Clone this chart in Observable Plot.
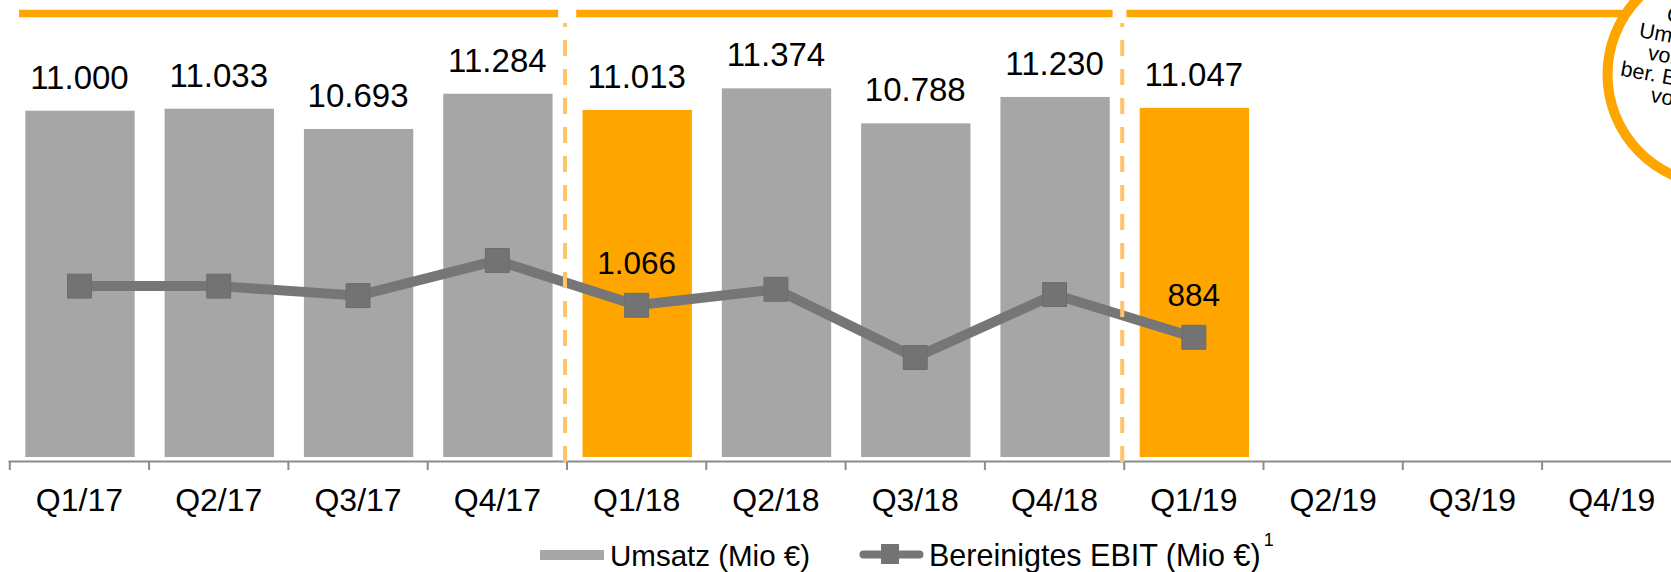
<!DOCTYPE html>
<html>
<head>
<meta charset="utf-8">
<script src="https://cdn.jsdelivr.net/npm/d3@7"></script>
<script src="https://cdn.jsdelivr.net/npm/@observablehq/plot@0.6"></script>
<style>
  html, body { margin: 0; padding: 0; background: #fff; overflow: hidden; }
  #wrap { position: relative; width: 1671px; height: 572px; overflow: hidden;
          font-family: "Liberation Sans", Arial, sans-serif; color: #000; }
  #wrap > svg { position: absolute; left: 0; top: 0; }
  .legtxt { position: absolute; white-space: nowrap; font-size: 30.5px; line-height: 31px; }
  .legtxt .note { font-size: 18px; position: relative; top: -20px; margin-left: 3px; }
</style>
</head>
<body>
<div id="wrap"></div>
<script>
// ---------------- data ----------------
const quarters = ["Q1/17", "Q2/17", "Q3/17", "Q4/17", "Q1/18", "Q2/18", "Q3/18", "Q4/18", "Q1/19", "Q2/19", "Q3/19", "Q4/19"];
const umsatz = [11000, 11033, 10693, 11284, 11013, 11374, 10788, 11230, 11047];   // Umsatz (Mio €)
const ebit = [1175, 1175, 1121, 1321, 1066, 1157, 769, 1127, 884];                // Bereinigtes EBIT (Mio €), estimated
const highlighted = ["Q1/18", "Q1/19"];
const ebitLabelled = ["Q1/18", "Q1/19"];
const yearStarts = ["Q1/18", "Q1/19"];
const years = [["Q1/17", "Q4/17"], ["Q1/18", "Q4/18"], ["Q1/19", "Q4/19"]];
const legendLabels = ["Umsatz (Mio €)", "Bereinigtes EBIT (Mio €)"];
const legendNote = "1";
const calloutLines = ["Organisches", "Umsatzwachstum", "von 0,3 % bzw.", "ber. EBIT-Rückgang", "von ca. 17 %"];

// scale extents (no visible y axes in the original)
const umsatzDomain = [5202, 12853];
const ebitDomain = [200, 2726];

// ---------------- helpers ----------------
const W = 1671, H = 525;
const font = "'Liberation Sans', Arial, sans-serif";
const fmt = d3.formatLocale({decimal: ",", thousands: ".", grouping: [3], currency: ["", "€"]}).format(",d");
const idx = q => quarters.indexOf(q);
const mid = q => idx(q) + 0.5;
const rev = umsatz.map((v, i) => ({q: quarters[i], v}));
const eb = ebit.map((v, i) => ({q: quarters[i], v}));
const xOpts = {type: "linear", domain: [0, quarters.length], range: [9.3, 9.3 + quarters.length * 139.3], axis: null};

const ORANGE = "#ffa500", GREY = "#a6a6a6", LINE = "#767676";

// ---------------- layer 1: bars + axis ----------------
const p1 = Plot.plot({
  width: W, height: H,
  marginTop: 0, marginBottom: 64, marginLeft: 9, marginRight: 0,
  style: {fontFamily: font, background: "transparent", overflow: "visible"},
  x: xOpts,
  y: {domain: umsatzDomain, range: [457, 0], axis: null},
  marks: [
    Plot.rect(rev, {
      x1: d => idx(d.q) + 0.115, x2: d => idx(d.q) + 0.9,
      y1: umsatzDomain[0], y2: "v",
      fill: d => highlighted.includes(d.q) ? ORANGE : GREY
    }),
    Plot.text(rev, {x: d => mid(d.q), y: "v", dy: -33, text: d => fmt(d.v),
      fontSize: 33, fill: "#000", lineAnchor: "middle"}),
    Plot.frame({anchor: "bottom", stroke: "#8c8c8c", strokeWidth: 2}),
    Plot.axisX({ticks: d3.range(quarters.length), tickSize: 9, tickFormat: () => "",
      stroke: "#8c8c8c", strokeWidth: 2}),
    Plot.text(quarters, {x: q => mid(q), frameAnchor: "bottom", dy: 39, text: q => q,
      fontSize: 32, fill: "#000", lineAnchor: "middle"})
  ]
});

// ---------------- layer 2: EBIT line + decorations ----------------
const p2 = Plot.plot({
  width: W, height: H,
  marginTop: 13, marginBottom: 68, marginLeft: 9, marginRight: 0,
  style: {fontFamily: font, background: "transparent", overflow: "visible"},
  x: xOpts,
  y: {domain: ebitDomain, axis: null},
  marks: [
    Plot.line(eb, {x: d => mid(d.q), y: "v", stroke: LINE, strokeWidth: 10}),
    Plot.dot(eb, {x: d => mid(d.q), y: "v", symbol: "square", r: 13.5,
      fill: "#737373", stroke: "#6c6c6c", strokeWidth: 1}),
    Plot.text(eb.filter(d => ebitLabelled.includes(d.q)), {x: d => mid(d.q), y: "v", dy: -41,
      text: d => fmt(d.v), fontSize: 31.5, fill: "#000", lineAnchor: "middle"}),
    Plot.ruleX(yearStarts, {x: q => idx(q), dx: -2, stroke: "#ffc466", strokeWidth: 4,
      strokeDasharray: "16,13", strokeDashoffset: 12, insetTop: 10, insetBottom: -7}),
    Plot.ruleY(years, {
      x1: d => idx(d[0]) + (d[0] === "Q1/19" ? 0.02 : 0.07),
      x2: d => idx(d[1]) + (d[1] === "Q4/18" ? 0.92 : 0.94),
      y: ebitDomain[1], stroke: ORANGE, strokeWidth: 7.4}),
    Plot.dot([0], {frameAnchor: "top-right", dx: 46, dy: 61, r: 110,
      fill: "#fff", stroke: ORANGE, strokeWidth: 10}),
    Plot.text([calloutLines.join("\n")], {frameAnchor: "top-right", dx: 47.8, dy: 52,
      rotate: 10, fontSize: 21.5, lineHeight: 0.96, textAnchor: "middle", lineAnchor: "middle", fill: "#000"})
  ]
});

const wrap = document.getElementById("wrap");
wrap.appendChild(p1);
wrap.appendChild(p2);

// ---------------- legend (below the SVG) ----------------
const leg = document.createElement("div");
leg.style.cssText = "position:absolute;left:0;top:" + H + "px;width:1671px;height:" + (572 - H) + "px;";
wrap.appendChild(leg);
const top0 = 540 - H;
// swatch 1
const sw1 = document.createElement("div");
sw1.style.cssText = "position:absolute;left:540px;top:" + (550 - H) + "px;width:64px;height:10px;background:" + GREY + ";";
leg.appendChild(sw1);
const t1 = document.createElement("div");
t1.className = "legtxt";
t1.style.left = "610px"; t1.style.top = top0 + "px"; t1.style.fontSize = "29.5px";
t1.textContent = legendLabels[0];
leg.appendChild(t1);
// swatch 2
const ns = "http://www.w3.org/2000/svg";
const sw2 = document.createElementNS(ns, "svg");
sw2.setAttribute("width", 70); sw2.setAttribute("height", 24);
sw2.style.cssText = "position:absolute;left:859px;top:" + (543 - H) + "px;";
const ln = document.createElementNS(ns, "line");
ln.setAttribute("x1", 4.5); ln.setAttribute("x2", 60.5); ln.setAttribute("y1", 11.5); ln.setAttribute("y2", 11.5);
ln.setAttribute("stroke", LINE); ln.setAttribute("stroke-width", 8); ln.setAttribute("stroke-linecap", "round");
const mk = document.createElementNS(ns, "rect");
mk.setAttribute("x", 22); mk.setAttribute("y", 1); mk.setAttribute("width", 18); mk.setAttribute("height", 20);
mk.setAttribute("fill", "#737373");
sw2.appendChild(ln); sw2.appendChild(mk);
leg.appendChild(sw2);
const t2 = document.createElement("div");
t2.className = "legtxt";
t2.style.left = "929px"; t2.style.top = top0 + "px";
t2.textContent = legendLabels[1];
const sup = document.createElement("span");
sup.className = "note";
sup.textContent = legendNote;
t2.appendChild(sup);
leg.appendChild(t2);
</script>
</body>
</html>
